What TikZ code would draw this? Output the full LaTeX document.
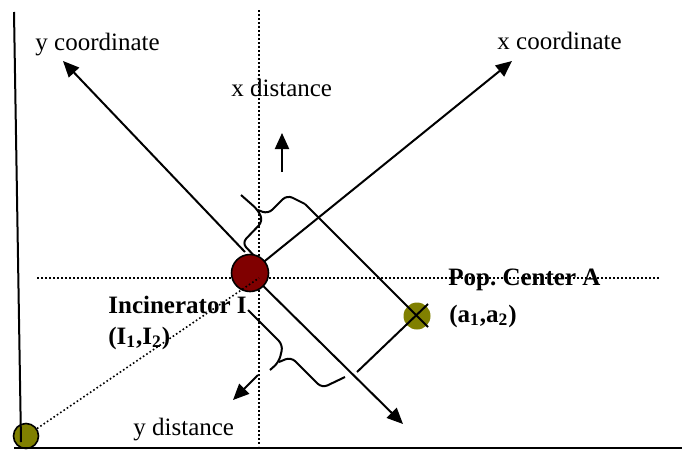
\documentclass[tikz,border=0pt]{standalone}
\usepackage{fontspec}
\setmainfont{Liberation Serif}
\usepackage{tikz}
\usetikzlibrary{arrows.meta, positioning, calc}

\definecolor{incred}{RGB}{128,0,0}
\definecolor{popolive}{RGB}{128,128,0}
\newcommand\lblsize{\fontsize{12.5}{15}\selectfont}
\frenchspacing

\begin{document}
\begin{tikzpicture}[x=0.5pt, y=-0.5pt,
  axisline/.style={line width=1pt},
  guide/.style={line width=0.8pt, dash pattern=on 0.8pt off 1.2pt},
  arr/.style={line width=1pt, -{Triangle[length=8pt,width=7pt]}},
  brace/.style={line width=1pt, rounded corners=3pt},
  lbl/.style={anchor=base west, inner sep=0pt, font=\lblsize},
  blbl/.style={lbl, font=\lblsize\bfseries},
  site/.style={circle, inner sep=0pt, minimum size=#1}]
  \useasboundingbox (0,0) rectangle (684,450);

  % reference points
  \coordinate (I) at (250,273);
  \coordinate (A) at (417,316);
  \coordinate (O) at (26,436);
  \coordinate (cross) at (259,278);
  \coordinate (vtop) at (259,10);
  \coordinate (vbot) at (259,446);
  \coordinate (hleft) at (37,278);
  \coordinate (hright) at (660,278);
  \coordinate (xtip) at (512,61);
  \coordinate (ytip) at (63,61);
  \coordinate (yedge) at (245,252);
  \coordinate (setip) at (403,424);
  \coordinate (projx) at (305,204);
  \coordinate (projxend) at (428,327);
  \coordinate (projy) at (428,304);
  \coordinate (projyend) at (357,372);
  \coordinate (axtop) at (14,12);
  \coordinate (axbot) at (21,442);
  \coordinate (baseleft) at (14,448);
  \coordinate (baseright) at (682,448);
  \coordinate (xdbase) at (282,172);
  \coordinate (xdtip) at (282,133);
  \coordinate (ydbase) at (258,375);
  \coordinate (ydtip) at (233,400);

  % dotted guides through the incinerator
  \draw[guide] (vtop) -- (vbot);
  \draw[guide] (hleft) -- (hright);

  % rotated axes
  \draw[arr] (I) -- (xtip);
  \draw[arr] (yedge) -- (ytip);
  \draw[arr] (I) -- (setip);

  % braces
  \draw[brace] (263,265) -- (242,243) -- (263,221) -- (258,210) -- (241,195);
  \draw[brace] (258,210) -- (268,214) -- (287,195) -- (projx);
  \draw[brace] (248,310) -- (283,345) -- (279,362) -- (270,370);
  \draw[brace] (279,362) -- (291,357) -- (322,388) -- (345,377);

  \node[site=18.5pt, fill=incred, draw=black, line width=0.8pt] (incinerator) at (I) {};
  \node[site=13.5pt, fill=popolive] (popA) at (A) {};

  % projections of A
  \draw[axisline] (projx) -- (projxend);
  \draw[axisline] (projy) -- (projyend);

  \node[site=12.5pt, fill=popolive, draw=black, line width=0.8pt] (origin) at (O) {};
  \draw[axisline] (axtop) -- (axbot);
  \draw[axisline] (baseleft) -- (baseright);
  \draw[guide] (origin) -- (cross);

  % labels
  \node[lbl] (ycoord) at (35,50) {y coordinate};
  \node[lbl] (xcoord) at (497,49) {x coordinate};
  \node[lbl] (xdist) at (231,96) {x distance};
  \node[lbl] (ydist) at (133,435) {y distance};
  \node[blbl] (inclabel) at (108,313) {Incinerator I};
  \node[blbl] (inccoord) at (108,344) {(I\textsubscript{1},I\textsubscript{2})};
  \node[blbl] (poplabel) at (448,285) {Pop. Center A};
  \node[blbl] (popcoord) at (449,322) {(a\textsubscript{1},a\textsubscript{2})};

  \draw[arr] (xdbase) -- (xdtip);
  \draw[arr] (ydbase) -- (ydtip);
\end{tikzpicture}
\end{document}
